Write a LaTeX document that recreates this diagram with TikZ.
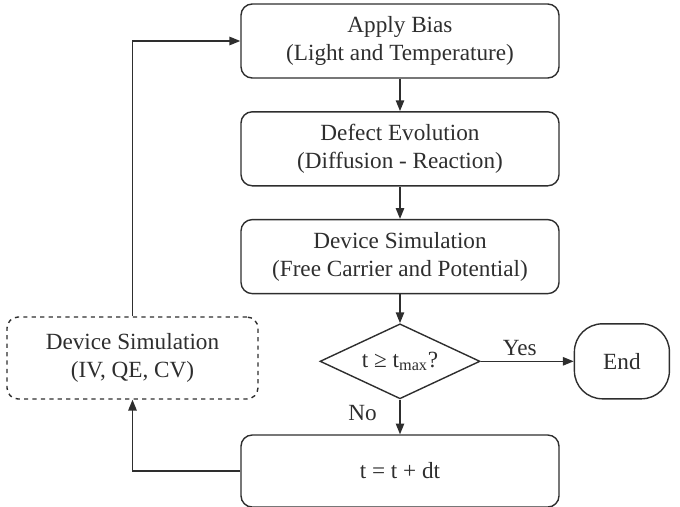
\documentclass[tikz,border=0pt]{standalone}
\usepackage{fontspec}
\setmainfont{Liberation Serif}
\usetikzlibrary{arrows.meta,shapes.geometric,positioning}

\definecolor{inkgray}{HTML}{2E2E2E}

\tikzset{
    flowline/.style={draw=inkgray, line width=1pt},
    flowarrow/.style={flowline, -{Triangle[length=0.27cm,width=0.21cm]}},
    process/.style={draw=inkgray, line width=1pt, rounded corners=0.28cm,
        minimum width=7.95cm, minimum height=1.85cm, align=center,
        text=inkgray, inner sep=0pt},
    measure/.style={process, dashed, minimum width=6.275cm, minimum height=2.05cm},
    decision/.style={draw=inkgray, line width=1pt, diamond, aspect=2,
        minimum width=4cm, minimum height=1.875cm, inner sep=0pt, text=inkgray},
    terminal/.style={draw=inkgray, line width=1pt, rounded corners=0.7cm,
        minimum width=2.375cm, minimum height=1.875cm, text=inkgray, inner sep=0pt}
}

\begin{document}
\begin{tikzpicture}[font=\fontsize{16.5}{20}\selectfont, node distance=0.81cm]
    \useasboundingbox (0,0) rectangle (17,-12.675);

    % main column
    \node[process] (bias) at (10,-1.025) {Apply Bias\\(Light and Temperature)};
    \node[process, below=of bias] (defect) {Defect Evolution\\(Diffusion - Reaction)};
    \node[process, below=of defect] (devsim) {Device Simulation\\(Free Carrier and Potential)};
    \node[decision, below=0.72cm of devsim] (check) {t ≥ t\textsubscript{max}?};
    \node[process, below=0.87cm of check, minimum height=1.8cm] (timestep) {t = t + dt};

    % side nodes
    \node[terminal, right=2.325cm of check] (end) {End};
    \node[measure] (ivqe) at (3.3125,-8.95) {Device Simulation\\(IV, QE, CV)};

    % connectors
    \draw[flowarrow] (bias) -- (defect);
    \draw[flowarrow] (defect) -- (devsim);
    \draw[flowarrow] (devsim) -- (check);
    \draw[flowarrow] (check) -- node[above, pos=0.42, text=inkgray] {Yes} (end);
    \draw[flowarrow] (check) -- node[pos=0.38, left=0.45cm, text=inkgray] {No} (timestep);
    \draw[flowarrow] (timestep.west) -| (ivqe.south);
    \draw[flowarrow] (ivqe.north) |- (bias.west);
\end{tikzpicture}
\end{document}
